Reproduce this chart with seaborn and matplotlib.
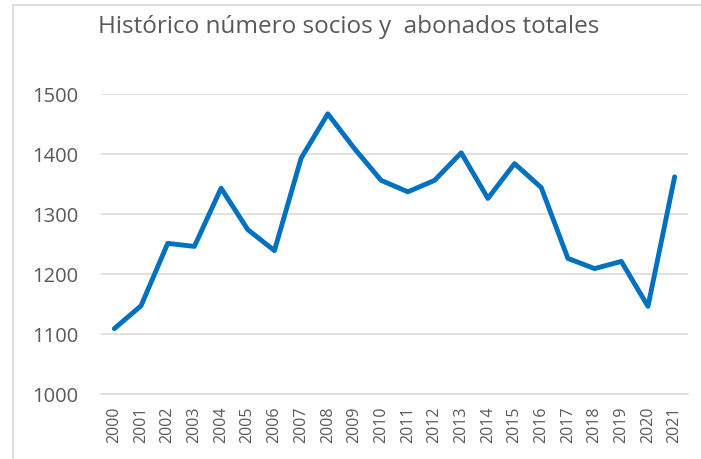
import pandas as pd
import matplotlib.pyplot as plt
import matplotlib.patches as mpatches
import seaborn as sns

# Data
years = [str(y) for y in range(2000, 2022)]
socios = [1109, 1147, 1251, 1246, 1343, 1274, 1239, 1393, 1467, 1409, 1356,
          1337, 1356, 1402, 1326, 1384, 1344, 1226, 1209, 1221, 1146, 1362]
yticks = [1000, 1100, 1200, 1300, 1400, 1500]

df = pd.DataFrame({"Año": years, "Socios": socios})

sns.set_theme(style="white")
plt.rcParams["font.family"] = ["Open Sans", "DejaVu Sans"]

fig = plt.figure(figsize=(7.01, 4.59), dpi=100)
ax = fig.add_axes([101 / 701, 65 / 459, 587 / 701, 300 / 459])

# light frame of the chart area (left and top edges visible)
fig.patches.append(mpatches.Rectangle((13 / 701, -0.1), 1.2, (459 - 5) / 459 + 0.1,
                                      transform=fig.transFigure, fill=False,
                                      edgecolor="#d9d9d9", linewidth=1.2))

sns.lineplot(data=df, x="Año", y="Socios", ax=ax, color="#0070C0",
             linewidth=3.5, sort=False)
ax.lines[0].set_solid_joinstyle("round")
ax.lines[0].set_solid_capstyle("round")

ax.set_xlim(-0.5, len(years) - 0.5)
ax.set_ylim(1000, 1500)
ax.set_yticks(yticks)
ax.set_yticklabels([str(v) for v in yticks])
ax.grid(axis="y", color="#d9d9d9", linewidth=1.1)
ax.set_axisbelow(True)
for side in ["top", "right", "left"]:
    ax.spines[side].set_visible(False)
ax.spines["bottom"].set_color("#d9d9d9")
ax.spines["bottom"].set_linewidth(1.1)

ax.tick_params(axis="y", length=0, pad=16, labelsize=14.5, labelcolor="#595959")
ax.tick_params(axis="x", length=0, pad=9, labelsize=11.5, labelcolor="#595959",
               labelrotation=90)
ax.set_xlabel("")
ax.set_ylabel("")

fig.text(349 / 701, 1 - 27 / 459, "Histórico número socios y  abonados totales",
         ha="center", va="center", fontsize=17.5, color="#595959")

fig.savefig("out.png", dpi=100)
